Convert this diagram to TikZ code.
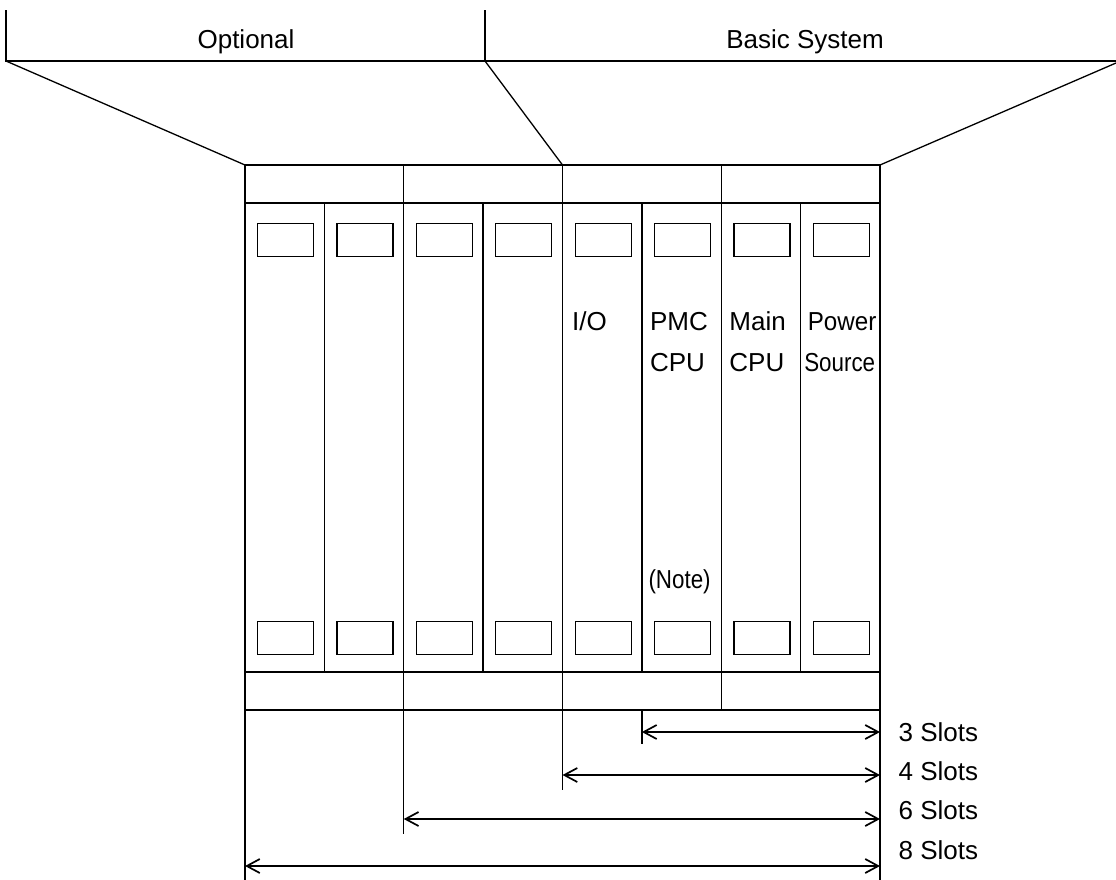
\documentclass[tikz,border=0pt]{standalone}
\usepackage{fontspec}
\setmainfont{Liberation Sans}
\usetikzlibrary{arrows.meta}
\begin{document}
\begin{tikzpicture}[x=1pt,y=-1pt,line width=1.3pt,line cap=rect,
  txt/.style={anchor=base west,inner sep=0pt,font=\fontsize{26}{31}\selectfont},
  ttl/.style={anchor=base,inner sep=0pt,font=\fontsize{26}{31}\selectfont},
  win/.style={draw,line width=1.3pt,minimum width=56pt,minimum height=33pt,inner sep=0pt,anchor=north west},
  dimline/.style={line cap=butt,{Straight Barb[length=13pt,width=14pt,line width=1.7pt]}-{Straight Barb[length=13pt,width=14pt,line width=1.7pt]}}]
\useasboundingbox (0,0) rectangle (1116,879);
% slot edges
\foreach \i in {0,...,8}{
  \coordinate (s\i) at ({245+\i*79.375},0);
}
% top brackets
\coordinate (tl0) at (6,11);
\coordinate (tl1) at (6,61);
\coordinate (tm0) at (485,11);
\coordinate (tm1) at (485,61);
\coordinate (tr1) at (1116,61);
\coordinate (tr2) at (1116,63);
\draw (tl0) -- (tl1) -- (tr1);
\draw (tm0) -- (tm1);
\node[ttl] (opt) at (246,48) {Optional};
\node[ttl] (bas) at (805,48) {Basic System};
% rack frame
\coordinate (rTL) at (s0 |- 0,165);
\coordinate (rTR) at (s8 |- 0,165);
\coordinate (rBL) at (s0 |- 0,710);
\draw (rTL) rectangle (s8 |- 0,710);
\draw (rTL) -- (tl1);
\draw (s4 |- 0,165) -- (tm1);
\draw (rTR) -- (tr2);
\draw (s0 |- 0,203) -- (s8 |- 0,203);
\draw (s0 |- 0,672) -- (s8 |- 0,672);
\foreach \i in {2,4,6}{ \draw (s\i |- 0,165) -- (s\i |- 0,710); }
\foreach \i in {1,3,5,7}{ \draw (s\i |- 0,203) -- (s\i |- 0,672); }
% windows
\foreach \i in {0,...,7}{
  \node[win] (wt\i) at ([xshift=12pt]s\i |- 0,223) {};
  \node[win] (wb\i) at ([xshift=12pt]s\i |- 0,620.5) {};
}
% labels
\node[txt] (io) at ([xshift=9pt]s4 |- 0,330) {I/O};
\node[txt] (pmc) at ([xshift=7.5pt]s5 |- 0,330) {PMC};
\node[txt] (pmccpu) at ([xshift=7.5pt]s5 |- 0,371) {CPU};
\node[txt] (mn) at ([xshift=7.5pt]s6 |- 0,330) {Main};
\node[txt] (mncpu) at ([xshift=7.5pt]s6 |- 0,371) {CPU};
\node[txt] (pw) at ([xshift=6.5pt]s7 |- 0,330) {\scalebox{0.93}[1]{Power}};
\node[txt] (src) at ([xshift=3pt]s7 |- 0,371) {\scalebox{0.86}[1]{Source}};
\node[txt] (note) at ([xshift=6pt]s5 |- 0,588) {\scalebox{0.86}[1]{(Note)}};
% dimension extension lines
\coordinate (e0) at (s0 |- 0,879);
\coordinate (e2) at (s2 |- 0,833);
\coordinate (e4) at (s4 |- 0,789);
\coordinate (e5) at (s5 |- 0,743);
\coordinate (e8) at (s8 |- 0,879);
\draw (rBL) -- (e0);
\draw (s2 |- 0,710) -- (e2);
\draw (s4 |- 0,710) -- (e4);
\draw (s5 |- 0,710) -- (e5);
\draw (s8 |- 0,710) -- (e8);
% dimension arrows
\coordinate (a3l) at (s5 |- 0,732);  \coordinate (a3r) at (s8 |- 0,732);
\coordinate (a4l) at (s4 |- 0,775);  \coordinate (a4r) at (s8 |- 0,775);
\coordinate (a6l) at (s2 |- 0,819);  \coordinate (a6r) at (s8 |- 0,819);
\coordinate (a8l) at (s0 |- 0,866);  \coordinate (a8r) at (s8 |- 0,866);
\draw[dimline] (a3l) -- (a3r);
\draw[dimline] (a4l) -- (a4r);
\draw[dimline] (a6l) -- (a6r);
\draw[dimline] (a8l) -- (a8r);
\node[txt] (l3) at (898,741) {3 Slots};
\node[txt] (l4) at (898,780) {4 Slots};
\node[txt] (l6) at (898,819.5) {6 Slots};
\node[txt] (l8) at (898,859) {8 Slots};
\end{tikzpicture}
\end{document}
